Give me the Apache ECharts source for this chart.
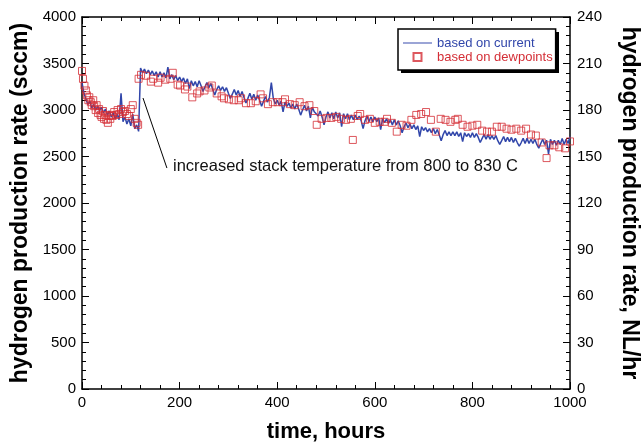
<!DOCTYPE html>
<html>
<head>
<meta charset="utf-8">
<script src="https://cdn.jsdelivr.net/npm/echarts@6/dist/echarts.min.js"></script>
<style>html,body{margin:0;padding:0;background:#fff}#c{width:644px;height:443px}</style>
</head>
<body>
<div id="c"></div>
<script>
// ---- data ----
const xTicks = [0, 200, 400, 600, 800, 1000];
const yLeftTicks = [0, 500, 1000, 1500, 2000, 2500, 3000, 3500, 4000];
const yRightTicks = [0, 30, 60, 90, 120, 150, 180, 210, 240];
const seriesNames = ['based on current', 'based on dewpoints'];
const annotationText = 'increased stack temperature from 800 to 830 C';
const annotationFrom = [125, 3129];
const annotationTo = [174, 2376];

// blue: hydrogen production based on current, sampled every 4 hours from t = 0
const BLUE_STEP = 4;
const currentValues = [
  3295, 3180, 3160, 3060, 3095, 3020, 3060, 3000, 3040, 2990,
  3030, 2970, 3010, 2945, 2990, 2925, 2970, 2905, 2955, 2895,
  3180, 2875, 2925, 2850, 2905, 2830, 2955, 2800, 2840, 2770,
  3452, 3400, 3440, 3390, 3430, 3380, 3420, 3370, 3410, 3355,
  3410, 3355, 3400, 3345, 3460, 3335, 3380, 3325, 3370, 3315,
  3355, 3305, 3345, 3285, 3335, 3230, 3315, 3260, 3305, 3250,
  3315, 3260, 3200, 3250, 3295, 3240, 3285, 3220, 3160, 3220,
  3260, 3210, 3250, 3200, 3240, 3180, 3125, 3170, 3220, 3160,
  3210, 3145, 3200, 3135, 3075, 3125, 3180, 3115, 3170, 3105,
  3160, 3105, 3040, 3095, 3145, 3085, 3135, 3295, 3125, 3065,
  3105, 3050, 3095, 2980, 3085, 3040, 3075, 3020, 3065, 3010,
  3065, 3010, 2945, 3000, 3050, 2990, 3040, 2915, 3030, 2980,
  3000, 2935, 2990, 2925, 2840, 2925, 2980, 2915, 2970, 2905,
  2980, 2915, 2970, 2820, 2960, 2905, 2960, 2895, 2945, 2895,
  2945, 2895, 2935, 2885, 2800, 2885, 2935, 2875, 2925, 2875,
  2925, 2875, 2915, 2790, 2905, 2865, 2905, 2855, 2895, 2840,
  2895, 2840, 2885, 2830, 2755, 2820, 2860, 2810, 2850, 2800,
  2840, 2790, 2830, 2715, 2820, 2780, 2810, 2765, 2800, 2755,
  2800, 2745, 2790, 2735, 2670, 2735, 2780, 2725, 2765, 2725,
  2765, 2725, 2765, 2715, 2755, 2660, 2755, 2715, 2745, 2705,
  2755, 2705, 2745, 2705, 2650, 2695, 2735, 2685, 2735, 2685,
  2725, 2685, 2725, 2670, 2630, 2670, 2715, 2660, 2705, 2660,
  2705, 2650, 2695, 2650, 2610, 2650, 2695, 2640, 2695, 2640,
  2685, 2640, 2685, 2630, 2590, 2640, 2685, 2630, 2675, 2525,
  2685, 2630, 2675, 2620, 2675, 2630, 2695, 2630, 2685, 2640,
  2715
];

// red squares: based on dewpoints
const dewTimes = [
  0, 2, 5, 8, 10, 13, 15, 18, 20, 23, 25, 28, 30, 33, 35, 38, 40, 43, 45, 48,
  50, 53, 55, 58, 60, 63, 66, 70, 73, 76, 80, 84, 88, 92, 96, 100, 104, 108, 112, 115,
  116, 121, 131, 141, 146, 156, 161, 171, 181, 186, 196, 201, 211, 216, 226, 236, 241,
  251, 261, 266, 276, 286, 291, 301, 311, 321, 326, 336, 346, 356, 366, 371, 381, 391,
  401, 411, 416, 426, 436, 446, 456, 466, 476, 481, 491, 501,
  511, 521, 531, 541, 551, 555, 565, 570, 580, 590, 600, 610, 620, 625, 635, 645, 655,
  665, 675, 685, 695, 705, 715, 725, 735, 745, 755, 765, 770, 780, 790, 800, 810, 820,
  830, 840, 850, 860, 870, 880, 890, 900, 910, 920, 930, 942, 952, 958, 968, 978, 990, 1000
];
const dewValues = [
  3420, 3335, 3262, 3210, 3158, 3105, 3137, 3084, 3052, 3105, 3041, 2999, 3052, 2968, 3010, 2947, 2926, 2989, 2905, 2947,
  2894, 2862, 2936, 2905, 2947, 2936, 2978, 2947, 2999, 2957, 3010, 2978, 2989, 2957, 2936, 3010, 3052, 2905, 2862, 2841,
  3336, 3378, 3368, 3305, 3336, 3294, 3347, 3326, 3336, 3400, 3273, 3263, 3221, 3252, 3136, 3178, 3200,
  3210, 3242, 3263, 3178, 3147, 3126, 3115, 3105, 3105, 3126, 3073, 3073, 3094, 3168, 3126, 3063, 3084,
  3084, 3084, 3115, 3063, 3052, 3084, 3041, 3052, 2989, 2841, 2905, 2915,
  2915, 2926, 2905, 2894, 2905, 2678, 2936, 2957, 2894, 2905, 2862, 2873, 2873, 2905, 2862, 2767, 2841,
  2831, 2894, 2947, 2957, 2978, 2894, 2767, 2905, 2894, 2873, 2894, 2905, 2841, 2820, 2831, 2841, 2778,
  2767, 2767, 2820, 2820, 2799, 2788, 2799, 2778, 2799, 2736, 2725, 2651, 2483, 2620, 2620, 2599, 2588, 2662
];

// ---- build ----
const currentData = currentValues.map((v, i) => [i * BLUE_STEP, v]);
const dewData = dewTimes.map((t, i) => [t, dewValues[i]]);

const FONT = '"Liberation Sans", Arial, Helvetica, sans-serif';
const BLUE = '#3146aa';
const RED = '#d42e36';
const plain = v => String(v);

function axisCommon(extra) {
  return Object.assign({
    type: 'value',
    axisLine: { show: true, onZero: false, lineStyle: { color: '#000', width: 1.5 } },
    axisTick: { show: true, inside: true, length: 7, lineStyle: { color: '#000', width: 1 } },
    minorTick: { show: true, splitNumber: 5, length: 4, lineStyle: { color: '#000', width: 1 } },
    splitLine: { show: false },
    minorSplitLine: { show: false },
    axisLabel: { color: '#000', fontFamily: FONT, fontSize: 15, formatter: plain }
  }, extra);
}

const chart = echarts.init(document.getElementById('c'), null, { renderer: 'canvas' });
chart.setOption({
  animation: false,
  backgroundColor: '#fff',
  grid: { left: 82, right: 74, top: 17, bottom: 54, containLabel: false, outerBoundsMode: 'none' },
  xAxis: [
    axisCommon({
      position: 'bottom', min: xTicks[0], max: xTicks[xTicks.length - 1],
      interval: xTicks[1] - xTicks[0],
      axisLabel: { color: '#000', fontFamily: FONT, fontSize: 15, margin: 6, formatter: plain },
      name: 'time, hours', nameLocation: 'middle', nameGap: 32,
      nameTextStyle: { color: '#000', fontFamily: FONT, fontSize: 22, fontWeight: 'bold' }
    }),
    axisCommon({
      position: 'top', min: xTicks[0], max: xTicks[xTicks.length - 1],
      interval: xTicks[1] - xTicks[0],
      axisLabel: { show: false }
    })
  ],
  yAxis: [
    axisCommon({
      position: 'left', min: yLeftTicks[0], max: yLeftTicks[yLeftTicks.length - 1],
      interval: yLeftTicks[1] - yLeftTicks[0],
      axisLabel: { color: '#000', fontFamily: FONT, fontSize: 15, margin: 6, formatter: plain },
      name: 'hydrogen production rate (sccm)', nameLocation: 'middle', nameGap: 40,
      nameTextStyle: { color: '#000', fontFamily: FONT, fontSize: 23, fontWeight: 'bold' }
    }),
    axisCommon({
      position: 'right', min: yRightTicks[0], max: yRightTicks[yRightTicks.length - 1],
      interval: yRightTicks[1] - yRightTicks[0],
      axisLabel: { color: '#000', fontFamily: FONT, fontSize: 15, margin: 7, formatter: plain },
      name: 'hydrogen production rate, NL/hr', nameLocation: 'middle', nameGap: 48,
      nameRotate: -90,
      nameTextStyle: { color: '#000', fontFamily: FONT, fontSize: 23, fontWeight: 'bold' }
    })
  ],
  legend: {
    orient: 'vertical', left: 398, top: 29, z: 6,
    itemWidth: 29, itemHeight: 8, itemGap: 0,
    padding: [7, 3, 6, 5],
    backgroundColor: '#fff', borderColor: '#000', borderWidth: 1.5,
    textStyle: { fontFamily: FONT, fontSize: 13, lineHeight: 14 },
    data: [
      { name: seriesNames[0], icon: 'path://M0,0H30V1H0Z', textStyle: { color: BLUE } },
      { name: seriesNames[1], icon: 'path://M0,0H10V10H0Z', textStyle: { color: RED } }
    ]
  },
  graphic: [
    {
      type: 'rect', left: 401, top: 32, z: 5, silent: true,
      shape: { width: 158, height: 41 },
      style: { fill: '#000' }
    },
    {
      type: 'text', left: 173, top: 158, silent: true,
      style: { text: annotationText, fill: '#111', font: '16.5px ' + FONT }
    }
  ],
  series: [
    {
      name: seriesNames[0], type: 'line', data: currentData,
      symbol: 'none', showSymbol: false,
      lineStyle: { color: BLUE, width: 1.5 }, itemStyle: { color: BLUE },
      z: 2
    },
    {
      name: seriesNames[1], type: 'scatter', data: dewData,
      symbol: 'rect', symbolSize: 7,
      itemStyle: { color: 'rgba(255,255,255,0)', borderColor: RED, borderWidth: 1 },
      z: 3,
      markLine: {
        silent: true, symbol: ['none', 'none'],
        label: { show: false },
        lineStyle: { color: '#000', width: 1, type: 'solid' },
        data: [[{ coord: annotationFrom }, { coord: annotationTo }]]
      }
    }
  ]
});
</script>
</body>
</html>
